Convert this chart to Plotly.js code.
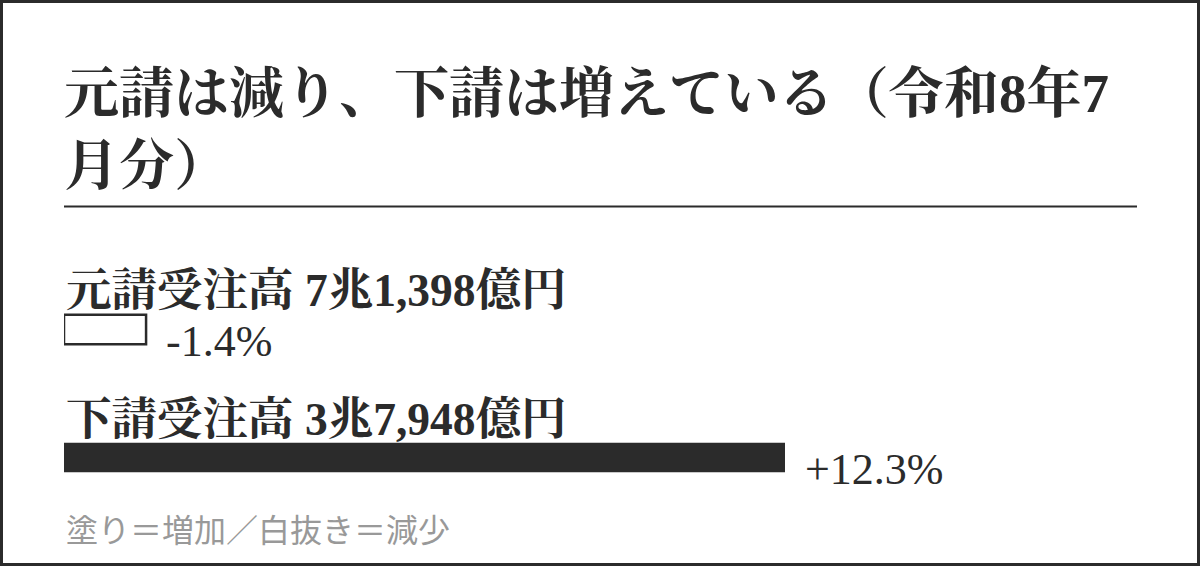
<!DOCTYPE html>
<html>
<head>
<meta charset="utf-8">
<script src="https://cdn.plot.ly/plotly-3.0.1.min.js"></script>
<style>
    html, body { margin: 0; padding: 0; background: #ffffff; }
    #chart { width: 1200px; height: 566px; }
</style>
</head>
<body>
<div id="chart"></div>
<script>
// Orders received, July of Reiwa 8: prime contracts vs subcontracts

const categories = ['元請受注高', '下請受注高'];
const amounts = ['7兆1,398億円', '3兆7,948億円'];
const changes = [-1.4, 12.3];   // year-on-year change, %

const titleText = '元請は減り、下請は増えている（令和8年7<br>月分）';
const noteText = '塗り＝増加／白抜き＝減少';

const INK = '#2b2b2b';
const SERIF = "'Liberation Serif', 'Noto Serif CJK JP', 'Noto Sans CJK JP', serif";
const SANS = "'Noto Sans CJK JP', 'Noto Sans', sans-serif";

// figure geometry (pixels)
const W = 1200, H = 566;
const margin = { l: 64, r: 63, t: 250, b: 66 };
const plotW = W - margin.l - margin.r;
const plotH = H - margin.t - margin.b;
const pxX = px => (px - margin.l) / plotW;          // pixel -> paper x
const pxY = px => (H - margin.b - px) / plotH;      // pixel -> paper y

const lengths = changes.map(v => Math.abs(v));
const fmt = v => (v > 0 ? '+' : '') + v.toFixed(1) + '%';

const barTrace = {
    type: 'bar',
    orientation: 'h',
    x: lengths,
    y: categories,
    width: 0.23,
    marker: {
        color: changes.map(v => v >= 0 ? INK : '#ffffff'),
        line: { color: INK, width: changes.map(v => v >= 0 ? 0 : 2.5) }
    },
    cliponaxis: false,
    hoverinfo: 'skip',
    showlegend: false
};

const annotations = [];
categories.forEach((c, i) => {
    // heading above each bar
    annotations.push({
        x: 0, y: c, xref: 'x', yref: 'y',
        xanchor: 'left', yanchor: 'bottom',
        yshift: 11,
        text: c + ' ' + amounts[i],
        showarrow: false,
        font: { family: SERIF, size: 45.5, color: INK, weight: 700 }
    });
    // change label to the right of the bar
    annotations.push({
        x: lengths[i], y: c, xref: 'x', yref: 'y',
        xanchor: 'left', yanchor: 'middle',
        xshift: 18, yshift: -12,
        text: fmt(changes[i]),
        showarrow: false,
        font: { family: SERIF, size: 44, color: INK }
    });
});

annotations.push({
    x: 0, y: pxY(528), xref: 'paper', yref: 'paper',
    xanchor: 'left', yanchor: 'middle',
    text: noteText,
    showarrow: false,
    font: { family: SANS, size: 32, color: '#999999' }
});

const shapes = [
    // rule under the title
    {
        type: 'line', xref: 'paper', yref: 'paper',
        x0: 0, x1: 1, y0: pxY(206.5), y1: pxY(206.5),
        line: { color: INK, width: 2 }
    },
    // outer frame
    {
        type: 'rect', xref: 'paper', yref: 'paper',
        x0: pxX(1.5), x1: pxX(W - 1.5), y0: pxY(H - 1.5), y1: pxY(1.5),
        line: { color: INK, width: 3 }
    }
];

const layout = {
    width: W,
    height: H,
    margin: margin,
    paper_bgcolor: '#ffffff',
    plot_bgcolor: '#ffffff',
    title: {
        text: titleText,
        x: 0, xref: 'paper', xanchor: 'left',
        y: 1 - 112 / H, yref: 'container', yanchor: 'top',
        font: { family: SERIF, size: 55, color: INK, weight: 700 }
    },
    xaxis: {
        range: [0, plotW / (721 / 12.3)],
        showgrid: false, zeroline: false, showticklabels: false,
        showline: false, fixedrange: true
    },
    yaxis: {
        type: 'category',
        range: [1.332, -0.621],
        showgrid: false, zeroline: false, showticklabels: false,
        showline: false, fixedrange: true
    },
    annotations: annotations,
    shapes: shapes
};

Plotly.newPlot('chart', [barTrace], layout, { displayModeBar: false, staticPlot: true });
</script>
</body>
</html>
